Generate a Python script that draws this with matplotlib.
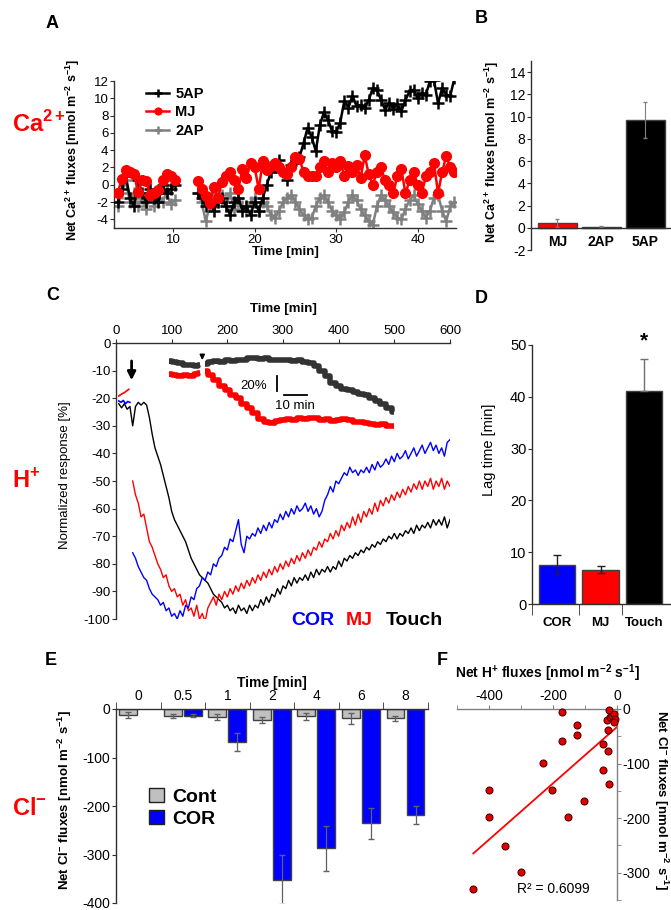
import numpy as np
import matplotlib
matplotlib.use("Agg")
import matplotlib.pyplot as plt
from matplotlib.patches import Patch

plt.rcParams['font.family'] = ['Liberation Sans', 'DejaVu Sans']
plt.rcParams['mathtext.fontset'] = 'custom'
plt.rcParams['mathtext.rm'] = 'Liberation Sans'
plt.rcParams['mathtext.bf'] = 'Liberation Sans:bold'
plt.rcParams['axes.unicode_minus'] = False
plt.rcParams['axes.linewidth'] = 1.0

# ---------------- data ----------------
# A: Ca2+ flux traces (two recording segments)
a_start1, a_start2, a_step = 3.2, 13.0, 0.5
ap5_seg1 = [-2.0, -0.5, 1.0, -1.5, -2.5, 0.5, -1.0, -2.0, -0.5, -1.5, -2.0, 0.0, -1.0, -0.5, 0.0]
ap5_seg2 = [-1.0, -1.5, -2.5, -2.0, -3.0, -2.0, -1.5, -2.5, -3.5, -2.0,
            -1.5, -3.0, -2.5, -3.5, -2.0, -3.0, -1.5, 0.0, 1.5, 2.0,
            2.9, 1.5, 0.6, 2.3, 2.5, 3.2, 4.8, 6.6, 5.5, 3.9,
            6.9, 8.4, 7.5, 6.2, 6.1, 7.2, 9.7, 8.9, 10.3, 9.1,
            9.2, 8.9, 9.8, 11.2, 11.0, 9.8, 8.7, 9.5, 8.8, 9.3,
            8.5, 9.8, 10.8, 11.0, 10.0, 10.6, 10.4, 12.0, 12.1, 9.4,
            11.2, 10.4, 10.3, 12.3]
mj_seg1 = [-1.0, 0.7, 1.7, 1.5, 1.2, -0.8, 0.5, 0.4, -1.2, -1.0, -0.6, 0.5, 1.2, 1.0, 0.6]
mj_seg2 = [0.4, -0.5, -1.3, -2.1, -0.3, -1.5, 0.3, 1.0, 1.5, 0.5,
           -0.5, 1.8, 0.8, 2.5, 2.0, -0.5, 2.7, 1.7, 2.2, 2.5,
           2.0, 1.5, 1.2, 2.0, 3.2, 3.0, 1.5, 1.0, 1.0, 1.0,
           2.0, 2.8, 1.5, 2.5, 2.0, 2.8, 1.0, 2.2, 1.5, 2.3,
           0.8, 3.4, 1.2, 0.0, 1.5, 2.0, 0.5, 0.0, -1.0, 1.0,
           1.8, -1.0, 0.5, 1.5, 0.0, -1.0, 1.0, 1.5, 2.5, -1.0,
           1.5, 3.3, 2.0, 1.5]
ap2_seg1 = [-2.5, -1.0, 0.5, -2.0, -1.0, -2.5, -1.5, -2.8, -1.0, -2.5, -1.5, -2.0, -1.0, -2.2, -1.8]
ap2_seg2 = [-1.0, -2.0, -4.2, -2.5, -1.0, -2.0, -1.2, -2.5, -1.0, -2.8,
            -1.5, -2.5, -3.0, -2.0, -1.5, -3.0, -2.0, -2.5, -3.5, -3.8,
            -3.0, -2.0, -1.5, -1.2, -2.0, -2.8, -3.5, -4.0, -3.8, -2.5,
            -1.5, -1.2, -2.0, -3.0, -3.5, -4.0, -3.2, -2.0, -1.2, -1.8,
            -2.8, -3.5, -4.2, -4.6, -2.5, -1.2, -1.8, -2.5, -3.2, -3.8,
            -4.0, -2.8, -1.8, -1.2, -2.2, -3.0, -3.8, -3.0, -1.5, -1.2,
            -3.0, -4.2, -2.5, -2.0]

# B: mean Ca2+ flux
b_groups = ['MJ', '2AP', '5AP']
b_vals = [0.45, 0.1, 9.7]
b_err = [0.35, 0.05, 1.65]
b_colors = ['#ff0000', '#202020', '#000000']

# C: normalized H+ response traces
c_step = 5
cor_start = 30
cor_trace = [-76, -78, -81, -83, -85, -86, -89, -91, -92, -93, -95, -94, -97, -96, -99, -98, -100, -97, -99, -95,
             -96, -92, -93, -89, -88, -85, -86, -83, -84, -80, -81, -78, -77, -74, -75, -71, -72, -68, -64, -73,
             -76, -70, -71, -69, -70, -67, -69, -66, -68, -65, -67, -64, -65, -62, -64, -61, -63, -60, -62, -59,
             -61, -60, -58, -61, -59, -62, -60, -63, -61, -57, -55, -52, -54, -50, -51, -49, -47, -48, -45, -47,
             -46, -48, -46, -47, -45, -47, -44, -46, -43, -45, -44, -42, -44, -41, -43, -40, -42, -41, -39, -42,
             -40, -38, -41, -39, -37, -40, -38, -36, -39, -37, -40, -38, -41, -36, -35]
mj_start = 30
mj_trace = [-50, -55, -58, -63, -62, -67, -72, -74, -77, -80, -82, -85, -84, -88, -90, -89, -92, -91, -95, -93,
            -97, -96, -99, -95, -100, -98, -101, -96, -94, -92, -95, -91, -93, -90, -92, -89, -91, -88, -90, -87,
            -89, -86, -88, -85, -87, -84, -86, -83, -85, -82, -84, -81, -83, -80, -82, -79, -81, -78, -80, -77,
            -79, -76, -78, -75, -77, -74, -75, -72, -74, -71, -72, -69, -71, -68, -70, -66, -68, -65, -67, -63,
            -66, -62, -65, -61, -63, -60, -62, -58, -61, -57, -59, -56, -58, -55, -57, -54, -56, -53, -55, -52,
            -54, -51, -53, -50, -53, -50, -52, -49, -53, -50, -52, -49, -53, -50, -52]
touch_start = 5
touch_trace = [-22, -23.5, -22, -24, -23, -30, -23, -21.5, -22.5, -21.5, -22.5, -27, -33, -38, -41, -44, -48, -52, -56, -61,
               -64, -66, -68, -70, -72, -75, -78, -80, -82, -84, -85, -86, -87, -89, -91, -92, -93, -94, -96, -95,
               -97, -96, -98, -95, -97, -96, -98, -95, -97, -95, -96, -93, -95, -92, -94, -91, -92, -89, -91, -88,
               -89, -86, -88, -85, -87, -85, -86, -84, -86, -83, -85, -82, -84, -82, -83, -81, -83, -81, -82, -79,
               -81, -78, -79, -77, -78, -76, -77, -75, -76, -74, -75, -73, -74, -72, -73, -71, -72, -70, -71, -69,
               -71, -69, -70, -68, -69, -67, -69, -66, -68, -66, -67, -65, -67, -64, -66, -64, -66, -63, -67, -64]
red_pre_t = [5, 10, 15, 20, 23]
red_pre = [-19.2, -18.5, -18.0, -17.2, -16.8]
blue_pre_t = [5, 9, 13, 17, 21, 25]
blue_pre = [-21.0, -21.5, -20.8, -22.0, -21.2, -21.5]
# C inset traces (touch = dark, MJ = red), before and after stimulus
ins_x1 = [95, 105, 115, 125, 135, 145, 150]
ins_touch1 = [-6.5, -6.8, -7.2, -7.8, -8.0, -8.3, -8.0]
ins_mj1 = [-11.3, -11.5, -11.8, -11.5, -12.0, -11.2, -11.0]
ins_x2_start, ins_x2_step = 160, 10
ins_touch2 = [-7.5, -6.8, -6.5, -6.8, -6.3, -6.5, -6.0, -6.2, -5.6, -5.4, -5.8, -5.5, -6.0, -6.2, -6.3, -6.0, -6.5, -6.3,
              -6.8, -7.2, -8.5, -10.0, -12.0, -14.5, -15.5, -16.8, -17.2, -17.8, -18.3, -19.0, -20.0, -21.0, -22.0,
              -23.5, -25.0]
ins_mj2 = [-10.0, -11.5, -13.5, -15.5, -17.0, -19.0, -20.0, -22.0, -23.5, -25.5, -27.5, -28.8, -29.0, -28.2, -28.0,
           -27.5, -27.8, -27.2, -27.5, -27.0, -27.3, -27.8, -27.5, -28.2, -28.0, -27.5, -27.8, -28.5, -28.8, -29.0,
           -29.3, -29.8, -29.5, -30.0, -30.2]

# D: lag time
d_groups = ['COR', 'MJ', 'Touch']
d_vals = [7.5, 6.6, 41.2]
d_err = [1.9, 0.7, 6.1]
d_colors = ['#0000ff', '#ff0000', '#000000']

# E: Cl- fluxes
e_times = ['0', '0.5', '1', '2', '4', '6', '8']
e_cont = [-12, -14, -16.5, -22, -15, -19, -19]
e_cont_err = [6, 4, 6.5, 6.5, 7, 11, 5.5]
e_cor = [np.nan, -14, -68, -352, -287, -236, -219]
e_cor_err = [np.nan, 3, 19, 50, 46, 32, 19]

# F: Cl- vs H+ fluxes
f_h = [-173, -124, -124, -173, -24, -31, -23, -16, -10, -7, -8, -28, -45, -29, -45, -24,
       -231, -202, -399, -399, -104, -152, -349, -301, -449]
f_cl = [-5, -30, -48, -59, -2, -20, -15, -12, -9, -18, -24, -39, -65, -77, -111, -138,
        -99, -149, -149, -198, -168, -198, -251, -299, -329]
f_slope, f_intercept = 0.516, -33.0
f_r2 = 0.6099

# ---------------- layout helpers ----------------
W, H = 671, 910


def box(l, t, r, b):
    return [l / W, 1 - b / H, (r - l) / W, (b - t) / H]


def ftext(x, y, s, **kw):
    fig.text(x / W, 1 - y / H, s, **kw)


fig = plt.figure(figsize=(W / 100, H / 100), dpi=100)
spine_c = '#303030'

# ---------------- A ----------------
axA = fig.add_axes(box(114, 81, 456, 228))
t1 = a_start1 + a_step * np.arange(len(ap5_seg1))
t2 = a_start2 + a_step * np.arange(len(ap5_seg2))
a_t = np.concatenate([t1, [np.nan], t2])


def joined(s1, s2):
    return np.concatenate([s1, [np.nan], s2])


axA.plot(a_t, joined(ap2_seg1, ap2_seg2), color='#808080', lw=1.8, marker='+', ms=8, mew=1.8, zorder=2, label='2AP')
axA.plot(a_t, joined(ap5_seg1, ap5_seg2), color='black', lw=1.8, marker='+', ms=8, mew=1.8, zorder=3, label='5AP')
axA.plot(a_t, joined(mj_seg1, mj_seg2), color='#ff0000', lw=1.8, marker='o', ms=7, zorder=4, label='MJ')
axA.set_xlim(2.75, 44.7)
axA.set_ylim(-5, 12)
axA.set_yticks(range(-4, 13, 2))
axA.set_xticks([10, 20, 30, 40])
axA.spines[['top', 'right']].set_visible(False)
axA.tick_params(labelsize=9.5, length=3, pad=1)
axA.set_xlabel('Time [min]', fontsize=9.5, fontweight='bold', labelpad=0)
hA = axA.get_legend_handles_labels()
order = [1, 2, 0]
axA.legend([hA[0][i] for i in order], [hA[1][i] for i in order], loc='upper left',
           bbox_to_anchor=(133 / W, 1 - 74 / H), bbox_transform=fig.transFigure, frameon=False,
           prop={'weight': 'bold', 'size': 10.5}, handlelength=1.6, handletextpad=0.4, labelspacing=0.3,
           markerscale=0.7)
ftext(73, 150, r'Net Ca$^{\mathbf{2+}}$ fluxes [nmol m$^{\mathbf{-2}}$ s$^{\mathbf{-1}}$]', rotation=90,
      ha='center', va='center', fontsize=9, fontweight='bold')

# ---------------- B ----------------
axB = fig.add_axes(box(531, 61, 670, 250))
xb = np.arange(len(b_groups))
axB.bar(xb, b_vals, width=0.89, color=b_colors, edgecolor='#404040', lw=1)
axB.errorbar(xb, b_vals, yerr=b_err, fmt='none', ecolor='#808080', elinewidth=0.8, capsize=1.5)
axB.set_xlim(-0.6, 2.56)
axB.set_ylim(-2, 15)
axB.set_yticks(range(-2, 15, 2))
axB.spines[['top', 'right']].set_visible(False)
axB.spines['bottom'].set_position(('data', 0))
axB.set_xticks(xb)
axB.set_xticklabels(b_groups, fontweight='bold', fontsize=10)
axB.tick_params(axis='x', length=0, pad=5)
axB.tick_params(axis='y', labelsize=10, length=3, pad=1)
ftext(492, 152, r'Net Ca$^{\mathbf{2+}}$ fluxes [nmol m$^{\mathbf{-2}}$ s$^{\mathbf{-1}}$]', rotation=90,
      ha='center', va='center', fontsize=9, fontweight='bold')

# ---------------- C ----------------
axC = fig.add_axes(box(116, 343, 450, 619))
cor_x = cor_start + c_step * np.arange(len(cor_trace))
mj_x = mj_start + c_step * np.arange(len(mj_trace))
touch_x = touch_start + c_step * np.arange(len(touch_trace))
axC.plot(touch_x, touch_trace, color='black', lw=1.0)
axC.plot(mj_x, mj_trace, color='#ff0000', lw=1.0)
axC.plot(cor_x, cor_trace, color='#0000ff', lw=1.0)
axC.plot(red_pre_t, red_pre, color='#ff0000', lw=1.2)
axC.plot(blue_pre_t, blue_pre, color='#0000ff', lw=1.2)
ins_x2 = ins_x2_start + ins_x2_step * np.arange(len(ins_touch2))
for xs, ys, col in [(ins_x1, ins_touch1, '#333333'), (ins_x2, ins_touch2, '#333333'),
                    (ins_x1, ins_mj1, '#ff0000'), (ins_x2, ins_mj2, '#ff0000')]:
    axC.plot(xs, ys, color=col, lw=4, drawstyle='steps-mid', solid_capstyle='butt')
axC.annotate('', xy=(28, -14.5), xytext=(28, -5.5),
             arrowprops=dict(arrowstyle='-|>', color='black', lw=2, mutation_scale=12))
axC.annotate('', xy=(155, -7.2), xytext=(155, -3.3),
             arrowprops=dict(arrowstyle='-|>', color='black', lw=1.2, mutation_scale=7))
axC.plot([290, 290], [-12, -17.5], color='black', lw=1.3)
axC.plot([301, 343], [-18.7, -18.7], color='black', lw=1.3)
axC.text(248, -15.5, '20%', ha='center', va='center', fontsize=9.5)
axC.text(322, -22.8, '10 min', ha='center', va='center', fontsize=9.5)
axC.set_xlim(0, 600)
axC.set_ylim(-100, 0)
axC.set_yticks(range(-100, 1, 10))
axC.set_xticks(range(0, 601, 100))
axC.xaxis.tick_top()
axC.xaxis.set_label_position('top')
axC.spines[['bottom', 'right']].set_visible(False)
axC.tick_params(labelsize=9.5, length=3, pad=1)
axC.set_xlabel('Time [min]', fontsize=9.5, fontweight='bold', labelpad=10)
ftext(65, 475, 'Normalized response [%]', rotation=90, ha='center', va='center', fontsize=9.5)
ftext(291, 625, 'COR', color='#0000ff', fontsize=14, fontweight='bold', va='baseline')
ftext(346, 625, 'MJ', color='#ff0000', fontsize=14, fontweight='bold', va='baseline')
ftext(386, 625, 'Touch', color='black', fontsize=14, fontweight='bold', va='baseline')

# ---------------- D ----------------
axD = fig.add_axes(box(532, 345, 671, 604))
xd = np.arange(len(d_groups))
axD.bar(xd, d_vals, width=0.84, color=d_colors, edgecolor='#404040', lw=1, zorder=2)
axD.errorbar(xd[:2], d_vals[:2], yerr=d_err[:2], fmt='none', ecolor='#202020', elinewidth=1, capsize=3, zorder=3)
axD.errorbar(xd[2:], d_vals[2:], yerr=[[0], d_err[2:]], fmt='none', ecolor='#707070', elinewidth=1,
             capsize=3, zorder=3)
axD.text(xd[2], d_vals[2] + d_err[2] + 3.5, '*', ha='center', va='center', fontsize=15, fontweight='bold')
dlo = -0.58
axD.set_xlim(dlo, 2.62)
axD.set_ylim(0, 50)
axD.set_yticks(range(0, 51, 10))
axD.set_xticks(xd)
axD.set_xticklabels(d_groups, fontweight='bold', fontsize=9.5)
axD.set_xticks([dlo, 0.5, 1.5], minor=True)
axD.tick_params(axis='x', which='major', length=0, pad=9)
axD.tick_params(axis='x', which='minor', length=8, color=spine_c)
axD.tick_params(axis='y', labelsize=10.5, length=3, pad=1)
axD.spines[['top', 'right']].set_visible(False)
ftext(489, 450, 'Lag time [min]', rotation=90, ha='center', va='center', fontsize=10.5)

# ---------------- E ----------------
axE = fig.add_axes(box(116, 709, 428, 903))
ge = np.arange(len(e_times))
axE.bar(ge + 0.27, e_cont, width=0.40, color='#c0c0c0', edgecolor='#404040', lw=1)
axE.errorbar(ge + 0.27, e_cont, yerr=e_cont_err, fmt='none', ecolor='#606060', elinewidth=0.9, capsize=2)
ok = np.isfinite(e_cor)
axE.bar((ge + 0.72)[ok], np.array(e_cor)[ok], width=0.40, color='#0000ff', edgecolor='#404040', lw=1)
axE.errorbar((ge + 0.72)[ok], np.array(e_cor)[ok], yerr=np.array(e_cor_err)[ok], fmt='none',
             ecolor='#606060', elinewidth=0.9, capsize=2)
axE.set_xlim(0, len(e_times))
axE.set_ylim(-400, 0)
axE.set_yticks(range(-400, 1, 100))
axE.xaxis.tick_top()
axE.xaxis.set_label_position('top')
axE.set_xticks(ge + 0.5)
axE.set_xticklabels(e_times)
axE.set_xticks(np.arange(len(e_times) + 1), minor=True)
axE.tick_params(axis='x', which='major', length=0, labelsize=10, pad=4)
axE.tick_params(axis='x', which='minor', length=5, color=spine_c)
axE.tick_params(axis='y', labelsize=10, length=3, pad=1)
axE.spines[['bottom', 'right']].set_visible(False)
axE.set_xlabel('Time [min]', fontsize=10, fontweight='bold', labelpad=2)
axE.legend(handles=[Patch(facecolor='#c0c0c0', edgecolor='#202020', label='Cont'),
                    Patch(facecolor='#0000ff', edgecolor='#202020', label='COR')],
           loc='upper left', bbox_to_anchor=(131 / W, 1 - 770 / H), bbox_transform=fig.transFigure,
           frameon=False, prop={'weight': 'bold', 'size': 14}, handlelength=0.8, handleheight=0.8,
           handletextpad=0.4, labelspacing=0.2)
ftext(65, 800, r'Net Cl$^{\mathbf{-}}$ fluxes [nmol m$^{\mathbf{-2}}$ s$^{\mathbf{-1}}$]', rotation=90,
      ha='center', va='center', fontsize=9.5, fontweight='bold')

# ---------------- F ----------------
axF = fig.add_axes(box(457, 709, 617, 900))
axF.scatter(f_h, f_cl, s=26, color='#e00000', edgecolor='#400000', lw=0.7, zorder=3, clip_on=False)
fit_x = np.array([min(f_h), 0])
axF.plot(fit_x, f_slope * fit_x + f_intercept, color='#ff0000', lw=1.3, zorder=2)
axF.set_xlim(-500, 0)
axF.set_ylim(-350, 0)
axF.xaxis.tick_top()
axF.yaxis.tick_right()
axF.set_xticks([-400, -200, 0])
axF.set_xticks(range(-500, 1, 100), minor=True)
axF.set_yticks([-300, -200, -100, 0])
axF.set_yticks(range(-350, 1, 50), minor=True)
axF.tick_params(which='both', labelsize=10, length=3, pad=1, color='#808080')
axF.spines[['bottom', 'left']].set_visible(False)
axF.spines[['top', 'right']].set_color('#808080')
axF.text(0.6, 0.06, 'R² = %.4f' % f_r2, transform=axF.transAxes, ha='center', va='center', fontsize=10)
ftext(547, 673, r'Net H$^{\mathbf{+}}$ fluxes [nmol m$^{\mathbf{-2}}$ s$^{\mathbf{-1}}$]', ha='center',
      va='center', fontsize=10, fontweight='bold')
ftext(661, 800, r'Net Cl$^{\mathbf{-}}$ fluxes [nmol m$^{\mathbf{-2}}$ s$^{\mathbf{-1}}$]', rotation=-90,
      ha='center', va='center', fontsize=9.5, fontweight='bold')

for ax in [axA, axB, axC, axD, axE]:
    for s in ax.spines.values():
        s.set_color(spine_c)
    ax.tick_params(which='both', color=spine_c)

# panel letters and ion labels
for lx, ly, lt in [(46, 28, 'A'), (475, 23, 'B'), (46, 300, 'C'), (475, 303, 'D'), (45, 665, 'E'), (437, 665, 'F')]:
    ftext(lx, ly, lt, fontsize=13, fontweight='bold', va='baseline')
ftext(12, 132, r'Ca$^{\mathbf{2+}}$', color='#ff0000', fontsize=17, fontweight='bold', va='baseline')
ftext(12, 488, r'H$^{\mathbf{+}}$', color='#ff0000', fontsize=17, fontweight='bold', va='baseline')
ftext(12, 815, r'Cl$^{\mathbf{-}}$', color='#ff0000', fontsize=17, fontweight='bold', va='baseline')

fig.savefig('out.png', dpi=100)
